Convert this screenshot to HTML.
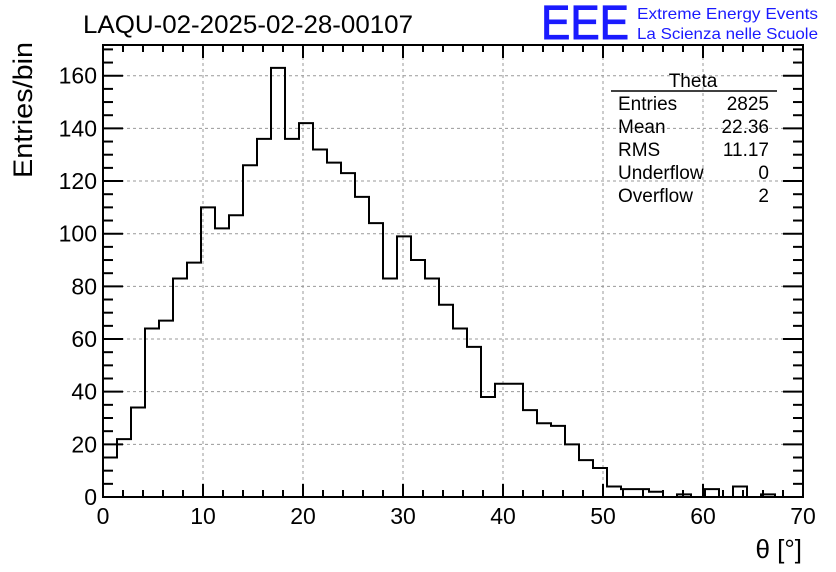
<!DOCTYPE html>
<html><head><meta charset="utf-8"><style>
body{margin:0;background:#fff;}
svg{display:block;font-family:"Liberation Sans",sans-serif;}
</style></head><body>
<svg id="c" width="836" height="572" viewBox="0 0 836 572">
<text x="83" y="33" font-size="25" textLength="330" lengthAdjust="spacingAndGlyphs">LAQU-02-2025-02-28-00107</text>
<text x="541" y="39" font-size="48" fill="#1a1aff" stroke="#1a1aff" stroke-width="1" textLength="88" lengthAdjust="spacingAndGlyphs">EEE</text>
<text x="637" y="19" font-size="16" fill="#1a1aff" textLength="181" lengthAdjust="spacingAndGlyphs">Extreme Energy Events</text>
<text x="637" y="39" font-size="16" fill="#1a1aff" textLength="181" lengthAdjust="spacingAndGlyphs">La Scienza nelle Scuole</text>
<g id="grid"></g>
<g id="axes"></g>
<path id="hist" fill="none" stroke="#000" stroke-width="2"/>
<rect x="103" y="45" width="700" height="452" fill="none" stroke="#000" stroke-width="2"/>
<text transform="translate(32,178) rotate(-90)" font-size="27" textLength="136" lengthAdjust="spacingAndGlyphs">Entries/bin</text>
<text x="802" y="558" font-size="26" text-anchor="end">θ [°]</text>
<g font-size="19">
<text x="693" y="87" text-anchor="middle">Theta</text>
<line x1="611" y1="91" x2="777" y2="91" stroke="#000" stroke-width="1.5"/>
<text x="618" y="110">Entries</text><text x="769" y="110" text-anchor="end">2825</text>
<text x="618" y="133">Mean</text><text x="769" y="133" text-anchor="end">22.36</text>
<text x="618" y="156">RMS</text><text x="769" y="156" text-anchor="end">11.17</text>
<text x="618" y="179">Underflow</text><text x="769" y="179" text-anchor="end">0</text>
<text x="618" y="202">Overflow</text><text x="769" y="202" text-anchor="end">2</text>
</g>
</svg>
<script>
const counts = [15,22,34,64,67,83,89,110,102,107,126,136,163,136,142,132,127,123,114,104,83,99,90,83,73,64,57,38,43,43,33,28,27,20,14,11,4,3,3,2,0,1,0,3,0,4,0,1,0,0];
const xTicks = [0,10,20,30,40,50,60,70];
const yTicks = [0,20,40,60,80,100,120,140,160];
const xMin=0,xMax=70,binW=1.4;
const L=103,R=803,T=45,B=497,yPerUnit=2.633;
function sx(v){return L+(v-xMin)/(xMax-xMin)*(R-L);}
function sy(v){return B-v*yPerUnit;}
const NS="http://www.w3.org/2000/svg";
const grid=document.getElementById('grid'),axes=document.getElementById('axes');
function mk(tag,attrs,parent){const e=document.createElementNS(NS,tag);for(const k in attrs)e.setAttribute(k,attrs[k]);parent.appendChild(e);return e;}
xTicks.forEach(v=>{
  const x=sx(v);
  if(v>xMin&&v<xMax){const g=mk('line',{x1:x,y1:T,x2:x,y2:B,stroke:'#999','stroke-dasharray':'3,3','stroke-width':1},grid);
  
  }
  const t=mk('text',{x:x,y:524,'font-size':23,'text-anchor':'middle'},axes);t.textContent=v;
  
  
});
for(let v=xMin;v<=xMax;v+=2){const x=sx(v);const len=(v%10===0)?13:7;
  mk('line',{x1:x,y1:B,x2:x,y2:B-len,stroke:'#000','stroke-width':2},axes);
  mk('line',{x1:x,y1:T,x2:x,y2:T+len,stroke:'#000','stroke-width':2},axes);}
yTicks.forEach(v=>{
  const y=sy(v);
  if(v>0){const g=mk('line',{x1:L,y1:y,x2:R,y2:y,stroke:'#999','stroke-dasharray':'3,3','stroke-width':1},grid);
  
  }
  const t=mk('text',{x:97,y:y+8,'font-size':23,'text-anchor':'end'},axes);t.textContent=v;
  
  
});
for(let v=0;sy(v)>T;v+=5){const y=sy(v);const len=(v%20===0)?20:10;
  mk('line',{x1:L,y1:y,x2:L+len,y2:y,stroke:'#000','stroke-width':2},axes);
  mk('line',{x1:R,y1:y,x2:R-len,y2:y,stroke:'#000','stroke-width':2},axes);}
let d='M'+sx(0)+','+sy(0);
counts.forEach((c,i)=>{const x0=sx(i*binW),x1=sx((i+1)*binW);d+=' L'+x0+','+sy(c)+' L'+x1+','+sy(c);});
d+=' L'+sx(counts.length*binW)+','+sy(0);
document.getElementById('hist').setAttribute('d',d);
</script>
</body></html>
